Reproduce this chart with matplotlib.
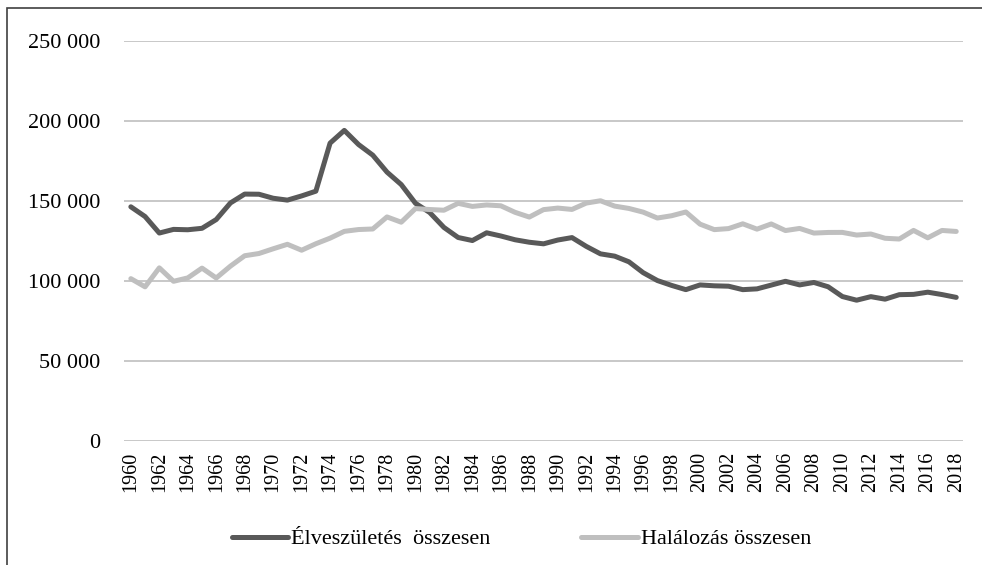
import numpy as np
import matplotlib.pyplot as plt
from matplotlib.patches import Rectangle

# data (Hungary, live births and deaths)
years = np.arange(1960, 2019)
births = [146461, 140365, 130053, 132335, 132105, 133009, 138489, 148886, 154419, 154318,
          151819, 150640, 153265, 156224, 186288, 194240, 185405, 178758, 168160, 160364,
          148673, 142890, 133559, 127258, 125359, 130200, 128204, 125840, 124296, 123304,
          125679, 127207, 121724, 117033, 115598, 112054, 105272, 100350, 97301, 94645,
          97597, 97047, 96804, 94647, 95137, 97496, 99871, 97613, 99149, 96442,
          90335, 88049, 90269, 88689, 91510, 91690, 93063, 91577, 89807]
deaths = [101525, 96410, 108273, 99871, 101989, 108119, 101943, 109373, 115856, 117248,
          120197, 123009, 119304, 123348, 126851, 131102, 132240, 132589, 140121, 136829,
          145355, 144757, 144318, 148643, 146709, 147614, 147089, 142999, 140042, 144695,
          145660, 144813, 148781, 150244, 146889, 145431, 143130, 139434, 140870, 143210,
          135601, 132183, 132833, 135823, 132492, 135732, 131603, 132938, 130027, 130414,
          130456, 128795, 129440, 126778, 126308, 131697, 127053, 131674, 131045]
yticks = [0, 50000, 100000, 150000, 200000, 250000]

plt.rcParams['font.family'] = ['Liberation Serif', 'DejaVu Serif']

fig = plt.figure(figsize=(9.82, 5.65), dpi=100)
ax = fig.add_axes([0.126, 0.2195, 0.855, 0.7075])

x = np.arange(len(years))
ax.plot(x, births, color='#595959', lw=3.6, label='Élveszületés  összesen',
        solid_capstyle='round', solid_joinstyle='round')
ax.plot(x, deaths, color='#BFBFBF', lw=3.6, label='Halálozás összesen',
        solid_capstyle='round', solid_joinstyle='round')

ax.set_xlim(-0.5, len(years) - 0.5)
ax.set_ylim(0, 250000)
ax.set_yticks(yticks)
ax.set_yticklabels([f'{v:,}'.replace(',', ' ') for v in yticks], fontsize=16)
ax.set_xticks(x[::2])
ax.set_xticklabels([str(y) for y in years[::2]], rotation=90, fontsize=14.5)
ax.tick_params(axis='x', length=0, pad=8)
ax.tick_params(axis='y', length=0, pad=17)
ax.grid(axis='y', color='#BFBFBF', lw=1.2)
ax.set_axisbelow(True)
for s in ax.spines.values():
    s.set_visible(False)

fig.legend(loc='center', bbox_to_anchor=(0.531, 0.046), ncol=2, frameon=False,
           fontsize=16, handlelength=2.55, handletextpad=0.12, columnspacing=4.1)

# outer frame
fig.patches.append(Rectangle((7 / 982, -0.2), 1.2, 1.2 - 8 / 565,
                             transform=fig.transFigure, fill=False,
                             edgecolor='#404040', lw=1.2))

fig.savefig('out.png', dpi=100)
